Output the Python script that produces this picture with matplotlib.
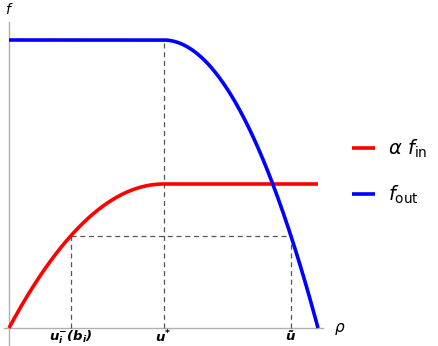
import numpy as np
import matplotlib.pyplot as plt

plt.rcParams['mathtext.fontset'] = 'custom'
plt.rcParams['mathtext.rm'] = 'DejaVu Sans'
plt.rcParams['mathtext.it'] = 'DejaVu Sans:italic'
plt.rcParams['mathtext.bf'] = 'DejaVu Sans:bold:italic'

# model curves (rho normalised to 0..1, u* = 0.5)
u_star = 0.5
u_minus = 0.2
level = 2 * u_minus * (1 - u_minus)          # alpha f_in(u_minus)
u_tilde = (1 + np.sqrt(1 - level)) / 2       # f_out(u_tilde) = level

rho = np.linspace(0, 1, 400)
alpha_f_in = np.where(rho < u_star, 2 * rho * (1 - rho), 2 * u_star * (1 - u_star))
f_out = np.where(rho < u_star, 1.0, 4 * rho * (1 - rho))

tick_pos = [u_minus, u_star, u_tilde]
tick_labels = [r'$\mathbf{u_i^{-}(b_i)}$', r'$\mathbf{u^{*}}$', r'$\mathbf{\tilde{u}}$']

fig = plt.figure(figsize=(4.39, 3.46), dpi=100)
ax = fig.add_axes([0, 0, 1, 1])
ax.set_xlim(-9 / 309, 430 / 309)
ax.set_ylim(-18 / 288, 328 / 288)
ax.axis('off')

grey = '#b0b0b0'
ax.plot([-5 / 309, 1 + 5 / 309], [0, 0], color=grey, lw=1)
ax.plot([0, 0], [-17 / 288, 306 / 288], color=grey, lw=1)

dash = dict(color='#555555', lw=0.9, ls=(0, (4, 3)))
ax.plot([u_minus, u_minus], [0, level], **dash)
ax.plot([u_star, u_star], [0, 1], **dash)
ax.plot([u_tilde, u_tilde], [0, level], **dash)
ax.plot([u_minus, u_tilde], [level, level], **dash)

ax.plot(rho, alpha_f_in, color='#ff0000', lw=2.6, solid_capstyle='butt', label=r'$\alpha\ f_{\mathrm{in}}$')
ax.plot(rho, f_out, color='#0000ff', lw=2.6, solid_capstyle='butt', label=r'$f_{\mathrm{out}}$')

for x, t in zip(tick_pos, tick_labels):
    ax.text(x, -9 / 288, t, ha='center', va='center', fontsize=9.5)

ax.text(0, 1.105, r'$f$', ha='center', va='center', fontsize=10)
ax.text(1.07, -0.005, r'$\rho$', ha='center', va='center', fontsize=11)

ax.legend(loc='center left', bbox_to_anchor=(352 / 439, 1 - 172 / 346),
          frameon=False, fontsize=14, borderpad=0, borderaxespad=0,
          handlelength=1.2, handletextpad=0.65, labelspacing=1.2)

fig.savefig('out.png', dpi=100)
